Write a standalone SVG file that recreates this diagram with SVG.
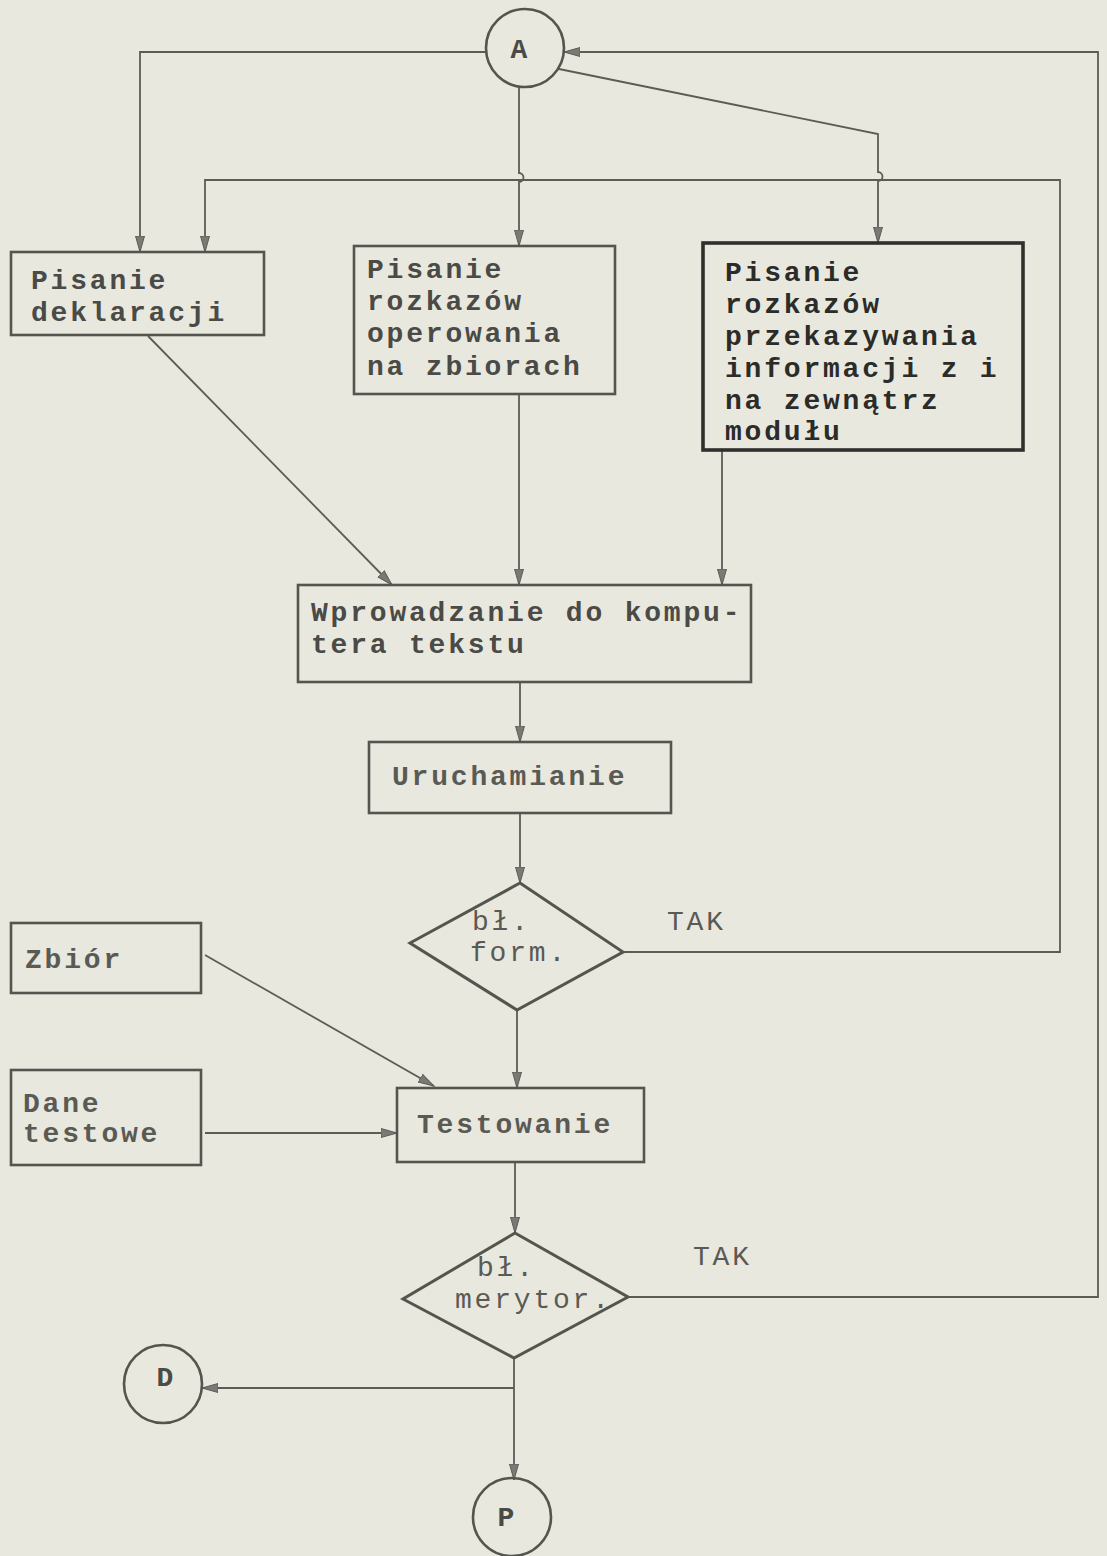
<svg xmlns="http://www.w3.org/2000/svg" width="1107" height="1556" viewBox="0 0 1107 1556">
  <defs>
    <style>
      .bg { fill: #e8e8df; }
      .box { fill: none; stroke: #555550; stroke-width: 2.6; }
      .box.strong { stroke: #2f2f2c; stroke-width: 3.6; }
      .dia { fill: none; stroke: #555550; stroke-width: 3; stroke-linejoin: miter; }
      .term { fill: none; stroke: #555550; stroke-width: 2.6; }
      .wire { fill: none; stroke: #5c5c57; stroke-width: 1.8; }
      .t { font-family: "Liberation Mono", "DejaVu Sans Mono", monospace; font-size: 28px; fill: #4a4a46; letter-spacing: 2.8px; }
      .b { font-weight: bold; }
      .dark { fill: #2b2b28; }
      .lite { fill: #5a5a55; }
      .c { font-family: "Liberation Mono", "DejaVu Sans Mono", monospace; font-size: 28px; font-weight: bold; fill: #4a4a46; text-anchor: middle; }
    </style>
    <marker id="arr" markerUnits="userSpaceOnUse" markerWidth="18" markerHeight="12" refX="16" refY="6" orient="auto">
      <path d="M0,1.5 L16,6 L0,10.5 Z" fill="#7a7a74" stroke="#5c5c57" stroke-width="1"/>
    </marker>
  </defs>

  <rect class="bg" x="0" y="0" width="1107" height="1556"/>

  <!-- connectors -->
  <g id="connectors">
    <!-- A to "Pisanie deklaracji" -->
    <path class="wire" d="M486,52 H140 V252" marker-end="url(#arr)"/>
    <!-- A to "Pisanie rozkazów operowania" (hops over the return line) -->
    <path class="wire" d="M519,87 V173 a4.5,4.5 0 0 1 0,9 V246" marker-end="url(#arr)"/>
    <!-- A to "Pisanie rozkazów przekazywania" -->
    <path class="wire" d="M559,69 L878,134 V172 a4.5,4.5 0 0 1 0,9 V243" marker-end="url(#arr)"/>
    <!-- bł. form. TAK loop back to deklaracji -->
    <path class="wire" d="M623,952 H1060 V180 H205 V252" marker-end="url(#arr)"/>
    <!-- bł. merytor. TAK loop back to A -->
    <path class="wire" d="M628,1297 H1098 V52 H564" marker-end="url(#arr)"/>
    <!-- three writing steps into text entry -->
    <path class="wire" d="M148,336 L392,585" marker-end="url(#arr)"/>
    <path class="wire" d="M519,394 V585" marker-end="url(#arr)"/>
    <path class="wire" d="M722,450 V585" marker-end="url(#arr)"/>
    <!-- main flow -->
    <path class="wire" d="M520,682 V742" marker-end="url(#arr)"/>
    <path class="wire" d="M520,813 V883" marker-end="url(#arr)"/>
    <path class="wire" d="M517,1010 V1088" marker-end="url(#arr)"/>
    <path class="wire" d="M205,955 L434,1086" marker-end="url(#arr)"/>
    <path class="wire" d="M205,1133 H397" marker-end="url(#arr)"/>
    <path class="wire" d="M515,1162 V1233" marker-end="url(#arr)"/>
    <path class="wire" d="M514,1358 V1480" marker-end="url(#arr)"/>
    <path class="wire" d="M514,1388 H202" marker-end="url(#arr)"/>
  </g>

  <!-- connector A -->
  <g id="node-a">
    <circle class="term" cx="525" cy="48" r="39"/>
    <text class="c" x="519" y="58">A</text>
  </g>

  <g id="node-deklaracje">
    <rect class="box" x="11" y="252" width="253" height="83"/>
    <text class="t b" x="31" y="289">Pisanie</text>
    <text class="t b" x="31" y="321">deklaracji</text>
  </g>

  <g id="node-zbiory">
    <rect class="box" x="354" y="246" width="261" height="148"/>
    <text class="t b" x="367" y="278">Pisanie</text>
    <text class="t b" x="367" y="310">rozkazów</text>
    <text class="t b" x="367" y="342">operowania</text>
    <text class="t b" x="367" y="375">na zbiorach</text>
  </g>

  <g id="node-przekazywanie">
    <rect class="box strong" x="703" y="243" width="320" height="207"/>
    <text class="t b dark" x="725" y="281">Pisanie</text>
    <text class="t b dark" x="725" y="313">rozkazów</text>
    <text class="t b dark" x="725" y="345">przekazywania</text>
    <text class="t b dark" x="725" y="377">informacji z i</text>
    <text class="t b dark" x="725" y="409">na zewnątrz</text>
    <text class="t b dark" x="725" y="440">modułu</text>
  </g>

  <g id="node-wprowadzanie">
    <rect class="box" x="298" y="585" width="453" height="97"/>
    <text class="t b" x="311" y="621">Wprowadzanie do kompu-</text>
    <text class="t b" x="311" y="653">tera tekstu</text>
  </g>

  <g id="node-uruchamianie">
    <rect class="box" x="369" y="742" width="302" height="71"/>
    <text class="t b lite" x="392" y="785">Uruchamianie</text>
  </g>

  <g id="node-bl-form">
    <path class="dia" d="M520,883 L623,952 L517,1010 L410,943 Z"/>
    <text class="t lite" x="472" y="930">bł.</text>
    <text class="t lite" x="470" y="961">form.</text>
  </g>
  <text class="t lite" x="667" y="930">TAK</text>

  <g id="node-zbior">
    <rect class="box" x="11" y="923" width="190" height="70"/>
    <text class="t b lite" x="25" y="968">Zbiór</text>
  </g>

  <g id="node-dane">
    <rect class="box" x="11" y="1070" width="190" height="95"/>
    <text class="t b lite" x="23" y="1112">Dane</text>
    <text class="t b lite" x="23" y="1142">testowe</text>
  </g>

  <g id="node-testowanie">
    <rect class="box" x="397" y="1088" width="247" height="74"/>
    <text class="t b lite" x="417" y="1133">Testowanie</text>
  </g>

  <g id="node-bl-merytor">
    <path class="dia" d="M515,1233 L628,1297 L514,1358 L403,1299 Z"/>
    <text class="t lite" x="477" y="1276">bł.</text>
    <text class="t lite" x="455" y="1308" letter-spacing="4.6">merytor.</text>
  </g>
  <text class="t lite" x="693" y="1265">TAK</text>

  <g id="node-d">
    <circle class="term" cx="163" cy="1384" r="39"/>
    <text class="c" x="165" y="1386">D</text>
  </g>

  <g id="node-p">
    <circle class="term" cx="512" cy="1517" r="39"/>
    <text class="c" x="506" y="1526">P</text>
  </g>
</svg>
